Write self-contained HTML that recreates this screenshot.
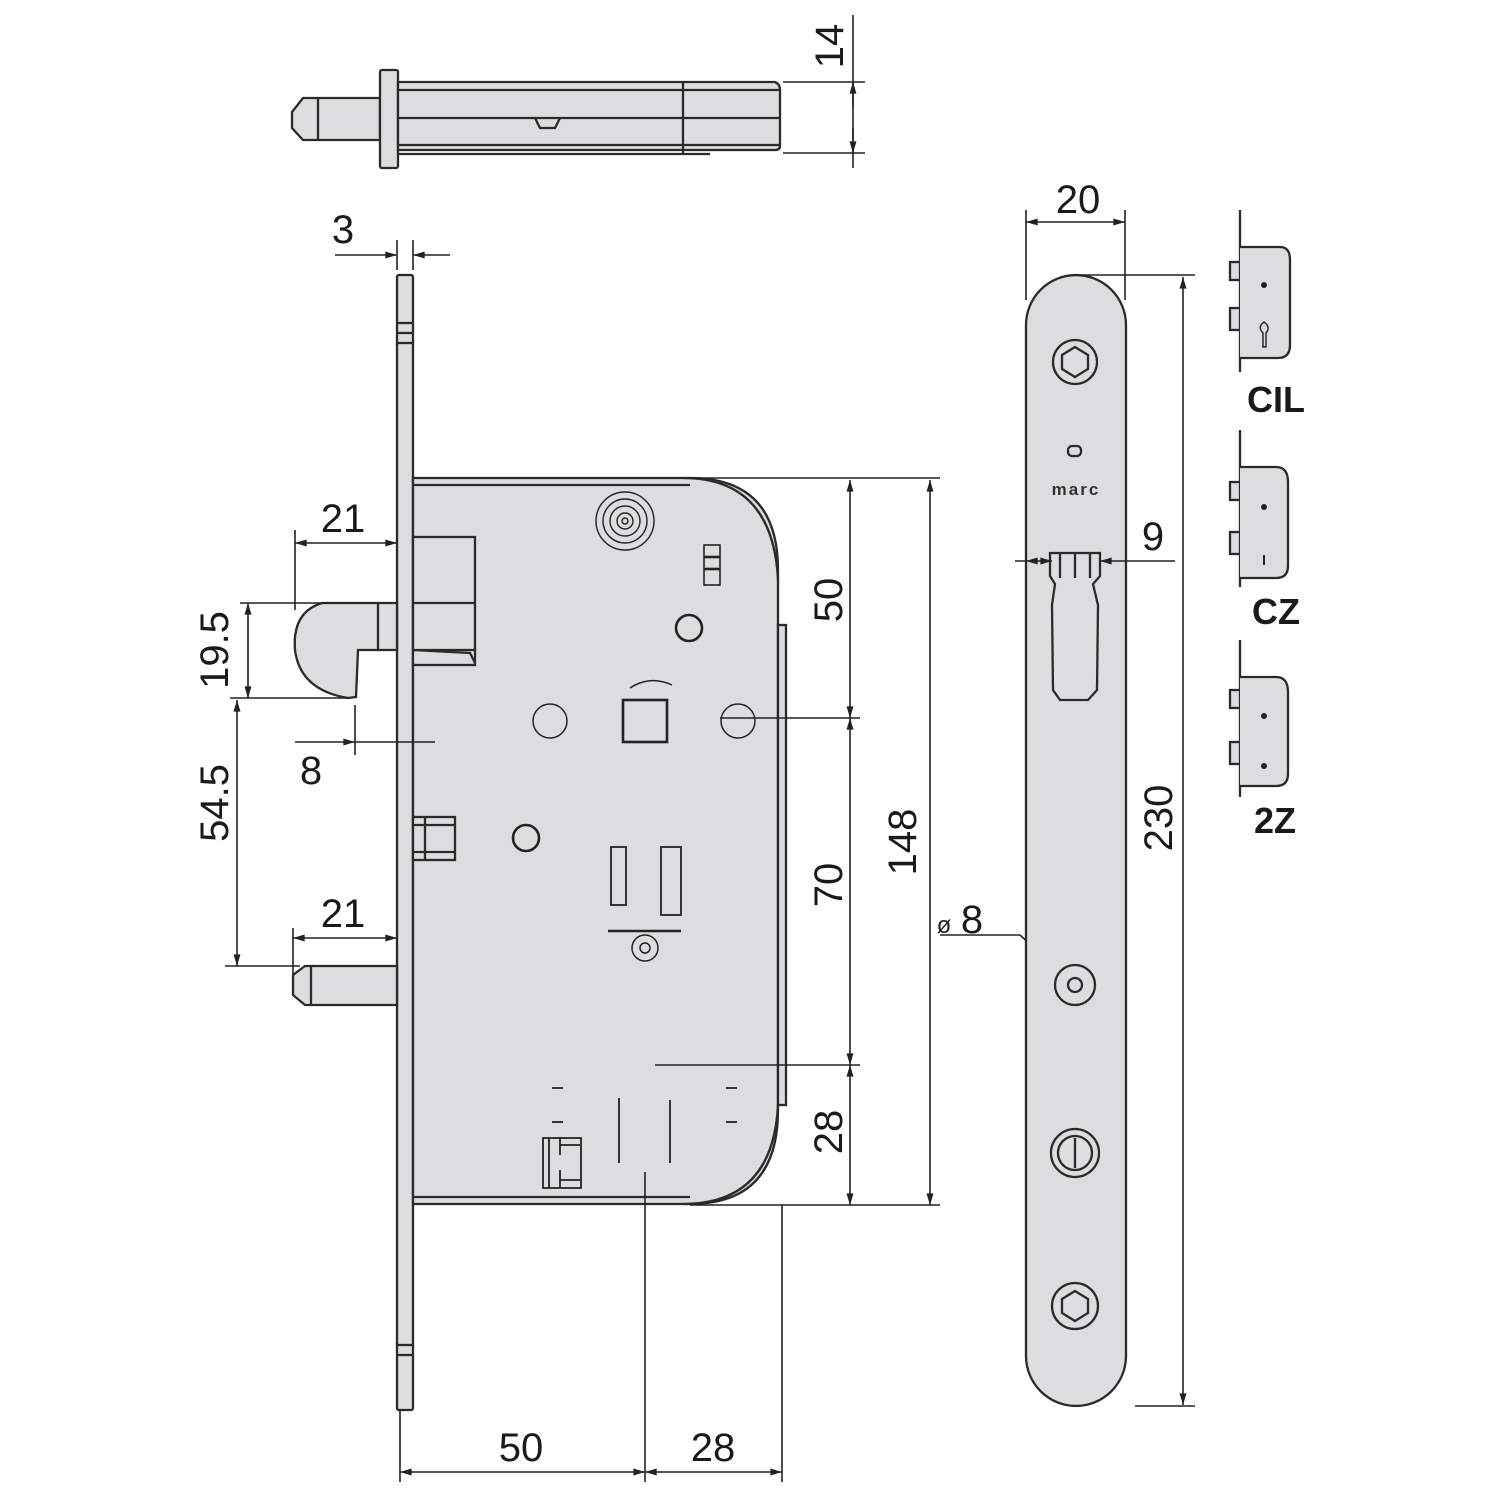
<!DOCTYPE html>
<html><head><style>html,body{margin:0;padding:0;background:#fff}svg{display:block}</style></head>
<body>
<svg width="1500" height="1500" viewBox="0 0 1500 1500" xmlns="http://www.w3.org/2000/svg" font-family="Liberation Sans, sans-serif">
<defs>
<marker id="a" viewBox="0 0 10 6" refX="10" refY="3" markerWidth="12" markerHeight="7" orient="auto-start-reverse" markerUnits="userSpaceOnUse"><path d="M0,0 L10,3 L0,6 z" fill="#222"/></marker>
</defs>
<g stroke="#2a2a2a" stroke-width="2.3" fill="#dcdddf">
<!-- top bolt view -->
<path d="M303,98 L380,98 L380,140 L303,140 L292,128 L292,112 z"/>
<line x1="318" y1="98" x2="318" y2="140"/>
<rect x="380" y="70" width="18" height="98" rx="2"/>
<path d="M398,82 L775,82 Q780,84 780,90 L780,146 Q780,150 775,150 L398,150 z"/>
<line x1="398" y1="90" x2="780" y2="90"/>
<line x1="398" y1="118" x2="780" y2="118"/>
<line x1="398" y1="145" x2="780" y2="145"/>
<line x1="683" y1="82" x2="683" y2="155"/>
<path d="M535,118 L540,128 L555,128 L560,118" fill="none"/>
<line x1="398" y1="154" x2="710" y2="154"/>
<!-- faceplate left -->
<rect x="397" y="275" width="16" height="1135" rx="2"/>
<line x1="397" y1="323" x2="413" y2="323"/><line x1="397" y1="333" x2="413" y2="333"/><line x1="397" y1="343" x2="413" y2="343"/>
<line x1="397" y1="1345" x2="413" y2="1345"/><line x1="397" y1="1355" x2="413" y2="1355"/>
<!-- body -->
<path d="M413,478 L690,478 Q778,478 778,570 L778,1110 Q778,1204 690,1204 L413,1204 z"/>
<line x1="413" y1="485" x2="690" y2="485"/>
<line x1="413" y1="1197" x2="690" y2="1197"/>
<path d="M683,478 Q773,478 778,580" fill="none"/>
<path d="M683,1204 Q773,1204 778,1105" fill="none"/>
<rect x="778" y="625" width="8" height="480"/>
<!-- latch -->
<rect x="413" y="537" width="62" height="128"/>
<line x1="413" y1="603" x2="475" y2="603"/>
<line x1="413" y1="650" x2="475" y2="650"/>
<path d="M413,650 L470,653 L475,663" fill="none"/>
<path d="M322,603 L397,603 L397,650 L358,650 L356,697 L348,698 Q300,690 295,650 Q292,612 322,603 z"/>
<line x1="378" y1="603" x2="378" y2="650"/>
<!-- lower bolt -->
<path d="M305,966 L397,966 L397,1005 L305,1005 L293,995 L293,975 z"/>
<line x1="311" y1="966" x2="311" y2="1005"/>
<rect x="413" y="817" width="42" height="43" fill="#dcdddf"/>
<line x1="413" y1="825" x2="455" y2="825"/><line x1="413" y1="852" x2="455" y2="852"/>
<line x1="425" y1="817" x2="425" y2="860"/>
</g>
<g stroke="#222" stroke-width="2.6" fill="none">
<circle cx="625" cy="521" r="29" stroke-width="1.4"/><circle cx="625" cy="521" r="22" stroke-width="1.4"/><circle cx="625" cy="521" r="15" stroke-width="1.4"/><circle cx="625" cy="521" r="8" stroke-width="1.4"/><circle cx="625" cy="521" r="3" stroke-width="1.4"/>
<rect x="704" y="545" width="16" height="40" stroke-width="1.6"/><line x1="704" y1="557" x2="720" y2="557"/><line x1="704" y1="569" x2="720" y2="569"/>
<circle cx="689" cy="628" r="13"/>
<circle cx="550" cy="721" r="17" stroke-width="1.5"/>
<circle cx="738" cy="721" r="17" stroke-width="1.5"/>
<rect x="623" y="700" width="44" height="42"/>
<path d="M630,688 Q650,675 672,685" stroke-width="1.5"/>
<circle cx="526" cy="838" r="13"/>
<rect x="611" y="847" width="15" height="58" stroke-width="1.8"/>
<rect x="661" y="847" width="20" height="68" stroke-width="1.8"/>
<line x1="608" y1="931" x2="681" y2="931"/>
<circle cx="645" cy="948" r="13" stroke-width="1.5"/><circle cx="645" cy="948" r="5" stroke-width="1.5"/>
<g stroke-width="1.8"><line x1="552" y1="1088" x2="563" y2="1088"/><line x1="552" y1="1122" x2="563" y2="1122"/><line x1="726" y1="1088" x2="737" y2="1088"/><line x1="726" y1="1122" x2="737" y2="1122"/>
<line x1="619" y1="1098" x2="619" y2="1163"/><line x1="670" y1="1100" x2="670" y2="1163"/>
<path d="M543,1138 L581,1138 L581,1188 L543,1188 z M549,1138 L549,1188 M560,1145 L580,1145 M560,1180 L580,1180 M560,1138 L560,1155 M560,1170 L560,1188"/></g>
</g>
<g stroke="#222" stroke-width="1.6" fill="none">
<line x1="853" y1="15" x2="853" y2="168"/>
<line x1="783" y1="82" x2="865" y2="82" /><line x1="783" y1="153" x2="865" y2="153"/>
<line x1="853" y1="82" x2="853" y2="108" marker-start="url(#a)"/><line x1="853" y1="128" x2="853" y2="153" marker-end="url(#a)"/>
<line x1="397" y1="240" x2="397" y2="270"/><line x1="413" y1="240" x2="413" y2="270"/>
<line x1="335" y1="255" x2="397" y2="255" marker-end="url(#a)"/><line x1="450" y1="255" x2="413" y2="255" marker-end="url(#a)"/>
<line x1="295" y1="530" x2="295" y2="610"/>
<line x1="295" y1="543" x2="397" y2="543" marker-start="url(#a)" marker-end="url(#a)"/>
<line x1="240" y1="603" x2="330" y2="603"/><line x1="230" y1="698" x2="350" y2="698"/>
<line x1="248" y1="603" x2="248" y2="698" marker-start="url(#a)" marker-end="url(#a)"/>
<line x1="237" y1="700" x2="237" y2="966" marker-start="url(#a)" marker-end="url(#a)"/>
<line x1="225" y1="966" x2="300" y2="966"/>
<line x1="355" y1="705" x2="355" y2="755"/>
<line x1="295" y1="742" x2="355" y2="742" marker-end="url(#a)"/><line x1="355" y1="742" x2="435" y2="742"/>
<line x1="293" y1="928" x2="293" y2="975"/>
<line x1="293" y1="938" x2="397" y2="938" marker-start="url(#a)" marker-end="url(#a)"/>
<line x1="690" y1="478" x2="940" y2="478"/><line x1="690" y1="1205" x2="940" y2="1205"/>
<line x1="720" y1="718" x2="860" y2="718"/><line x1="655" y1="1065" x2="860" y2="1065"/>
<line x1="850" y1="480" x2="850" y2="718" marker-start="url(#a)" marker-end="url(#a)"/>
<line x1="850" y1="718" x2="850" y2="1065" marker-start="url(#a)" marker-end="url(#a)"/>
<line x1="850" y1="1065" x2="850" y2="1205" marker-start="url(#a)" marker-end="url(#a)"/>
<line x1="930" y1="480" x2="930" y2="1205" marker-start="url(#a)" marker-end="url(#a)"/>
<line x1="400" y1="1410" x2="400" y2="1482"/><line x1="645" y1="1172" x2="645" y2="1482"/><line x1="782" y1="1205" x2="782" y2="1482"/>
<line x1="400" y1="1472" x2="645" y2="1472" marker-start="url(#a)" marker-end="url(#a)"/>
<line x1="645" y1="1472" x2="782" y2="1472" marker-start="url(#a)" marker-end="url(#a)"/>
<line x1="1026" y1="210" x2="1026" y2="300"/><line x1="1125" y1="210" x2="1125" y2="300"/>
<line x1="1026" y1="222" x2="1125" y2="222" marker-start="url(#a)" marker-end="url(#a)"/>
<line x1="1075" y1="275" x2="1195" y2="275"/><line x1="1135" y1="1406" x2="1195" y2="1406"/>
<line x1="1183" y1="277" x2="1183" y2="1405" marker-start="url(#a)" marker-end="url(#a)"/>
<line x1="1015" y1="561" x2="1175" y2="561"/>
<line x1="940" y1="935" x2="1020" y2="935"/><line x1="1020" y1="935" x2="1058" y2="970" marker-end="url(#a)"/>
</g>
<g stroke="#2a2a2a" stroke-width="2.3" fill="#dcdddf">
<path d="M1026,325 A50,50 0 0 1 1126,325 L1126,1356 A50,50 0 0 1 1026,1356 z"/>
<circle cx="1075" cy="362" r="22"/><polygon points="1075,347 1088,355 1088,369 1075,377 1062,369 1062,355"/>
<rect x="1068" y="446" width="13" height="10" rx="4"/>
<path d="M1050,553 L1100,553 L1100,576 L1093,584 L1098,605 L1097,690 L1088,700 L1060,700 L1053,690 L1052,605 L1055,584 L1050,576 z"/>
<line x1="1060" y1="553" x2="1060" y2="578"/><line x1="1075" y1="553" x2="1075" y2="578"/><line x1="1090" y1="553" x2="1090" y2="578"/>
<circle cx="1075" cy="985" r="20"/><circle cx="1075" cy="985" r="7"/>
<circle cx="1075" cy="1153" r="24"/><circle cx="1075" cy="1153" r="17"/><line x1="1075" y1="1138" x2="1075" y2="1168"/>
<circle cx="1075" cy="1306" r="23"/><polygon points="1075,1291 1088,1299 1088,1313 1075,1321 1062,1313 1062,1299"/>
</g>
<g stroke="#222" stroke-width="1.6" fill="none">
<line x1="1026" y1="561" x2="1052" y2="561" marker-start="url(#a)" marker-end="url(#a)"/>
<line x1="1126" y1="561" x2="1100" y2="561" marker-end="url(#a)"/>
</g>
<text x="1076" y="495" font-size="17" font-weight="bold" text-anchor="middle" fill="#333" letter-spacing="2">marc</text>
<g stroke="#2a2a2a" stroke-width="2.3" fill="#dcdddf">
<line x1="1240" y1="210" x2="1240" y2="372" fill="none"/>
<rect x="1230" y="262" width="10" height="18"/><rect x="1230" y="308" width="10" height="22"/>
<path d="M1240,247 L1280,247 Q1290,247 1290,260 L1290,345 Q1290,358 1278,358 L1240,358"/>
<path d="M1263,347 L1263,333 Q1257,327 1264,322 Q1271,327 1266,333 L1266,347 z" fill="none" stroke-width="1.5"/>
<line x1="1240" y1="430" x2="1240" y2="587" fill="none"/>
<rect x="1230" y="482" width="10" height="18"/><rect x="1230" y="532" width="10" height="22"/>
<path d="M1240,467 L1276,467 Q1288,467 1288,482 L1288,566 Q1288,578 1276,578 L1240,578"/>
<line x1="1240" y1="640" x2="1240" y2="797" fill="none"/>
<rect x="1230" y="690" width="10" height="18"/><rect x="1230" y="742" width="10" height="22"/>
<path d="M1240,677 L1276,677 Q1288,677 1288,692 L1288,774 Q1288,786 1276,786 L1240,786"/>
</g>
<circle cx="1264" cy="285" r="3" fill="#222"/>
<circle cx="1264" cy="507" r="3" fill="#222"/><line x1="1264" y1="555" x2="1264" y2="565" stroke="#222" stroke-width="2"/>
<circle cx="1264" cy="716" r="3" fill="#222"/><circle cx="1264" cy="766" r="3" fill="#222"/>
<g fill="#1a1a1a" font-size="40" text-anchor="middle">
<text x="343" y="243">3</text>
<text x="343" y="532">21</text>
<text x="343" y="927">21</text>
<text x="311" y="784">8</text>
<text x="521" y="1461">50</text>
<text x="713" y="1461">28</text>
<text x="1078" y="213">20</text>
<text x="1153" y="550">9</text>
<text x="972" y="933">8</text>
<text transform="translate(843,46) rotate(-90)">14</text>
<text transform="translate(228,650) rotate(-90)">19.5</text>
<text transform="translate(228,803) rotate(-90)">54.5</text>
<text transform="translate(842,600) rotate(-90)">50</text>
<text transform="translate(842,885) rotate(-90)">70</text>
<text transform="translate(842,1132) rotate(-90)">28</text>
<text transform="translate(916,842) rotate(-90)">148</text>
<text transform="translate(1172,818) rotate(-90)">230</text>
<text x="1276" y="412" font-size="36" font-weight="bold">CIL</text>
<text x="1276" y="624" font-size="36" font-weight="bold">CZ</text>
<text x="1275" y="833" font-size="36" font-weight="bold">2Z</text>
</g>
<text x="944" y="933" font-size="24" fill="#222" text-anchor="middle">ø</text>
</svg>
</body></html>
